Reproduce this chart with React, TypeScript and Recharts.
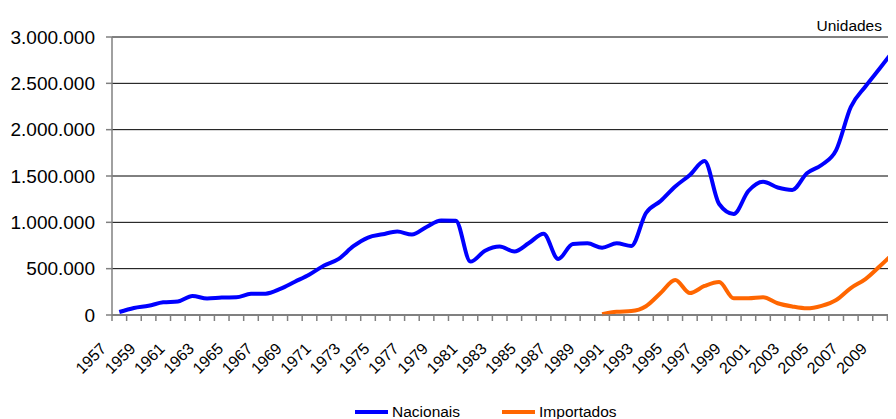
import React from 'react';
import { LineChart, Line, XAxis, YAxis, CartesianGrid, Legend } from 'recharts';

// Licenciamento de autoveículos (unidades)
const YEARS = [
  '1957', '1958', '1959', '1960', '1961', '1962', '1963', '1964', '1965', '1966',
  '1967', '1968', '1969', '1970', '1971', '1972', '1973', '1974', '1975', '1976',
  '1977', '1978', '1979', '1980', '1981', '1982', '1983', '1984', '1985', '1986',
  '1987', '1988', '1989', '1990', '1991', '1992', '1993', '1994', '1995', '1996',
  '1997', '1998', '1999', '2000', '2001', '2002', '2003', '2004', '2005', '2006',
  '2007', '2008', '2009', '2010',
];

const NACIONAIS = [
  32000, 76000, 100000, 137000, 146000, 205000, 178000, 188000, 191000, 228000,
  230000, 281000, 359000, 437000, 534000, 606000, 742000, 836000, 871000, 901000,
  868000, 950000, 1020000, 1018000, 576000, 694000, 739000, 686000, 777000, 877000,
  604000, 766000, 773000, 725000, 774000, 745000, 1101000, 1230000, 1387000, 1511000,
  1662000, 1198000, 1090000, 1338000, 1438000, 1376000, 1350000, 1529000, 1619000, 1780000,
  2245000, 2466000, 2665000, 2870000,
];

const IMPORTADOS: (number | null)[] = [
  null, null, null, null, null, null, null, null, null, null,
  null, null, null, null, null, null, null, null, null, null,
  null, null, null, null, null, null, null, null, null, null,
  null, null, null, 8000, 35000, 42000, 95000, 237000, 378000, 237000,
  313000, 356000, 180000, 180000, 191000, 127000, 92000, 72000, 99000, 162000,
  291000, 388000, 529000, 680000,
];

const Y_TICKS = [0, 500000, 1000000, 1500000, 2000000, 2500000, 3000000];

const FONT = "'Liberation Sans', Arial, sans-serif";
const CHART_W = 902;
const CHART_H = 419;
const PLOT_LEFT = 112;
const XAXIS_H = 104;
const AXIS_Y = CHART_H - XAXIS_H;
const BAND = (CHART_W - PLOT_LEFT) / YEARS.length;

const data = YEARS.map((ano, i) => ({
  ano,
  nacionais: NACIONAIS[i],
  importados: IMPORTADOS[i],
}));

/** 3000000 -> "3.000.000" */
function fmtPt(v: number): string {
  return String(v).replace(/\B(?=(\d{3})+(?!\d))/g, '.');
}

/** Tick do eixo X: marca entre categorias, rótulo a cada dois anos. */
function YearTick({ x, payload, index }: any) {
  const bx = x - BAND / 2;
  const lx = x - 12;
  const ly = AXIS_Y + 34.6;
  return (
    <g>
      <line x1={bx} x2={bx} y1={AXIS_Y} y2={AXIS_Y + 6} stroke="#808080" strokeWidth={1.5} />
      {index % 2 === 0 && (
        <text
          x={lx}
          y={ly}
          textAnchor="end"
          transform={`rotate(-45, ${lx}, ${ly})`}
          fontSize={16}
          fontFamily={FONT}
          fill="#000"
        >
          {payload.value}
        </text>
      )}
    </g>
  );
}

function LegendContent() {
  const item = (color: string, label: string, gap: number) => (
    <div style={{ display: 'flex', alignItems: 'center', marginRight: gap }}>
      <span style={{ display: 'inline-block', width: 33, height: 4, background: color, marginRight: 4 }} />
      <span>{label}</span>
    </div>
  );
  return (
    <div style={{ display: 'flex', fontFamily: FONT, fontSize: 15.5, lineHeight: '16px', color: '#000' }}>
      {item('#0000FF', 'Nacionais', 42)}
      {item('#FF6600', 'Importados', 0)}
    </div>
  );
}

export default function App(): React.ReactElement {
  // a área visível começa na margem do body (8px); o gráfico é deslocado para o canto da página
  return (
    <div style={{ position: 'relative', width: 888, height: 411, overflow: 'hidden' }}>
      <div style={{ position: 'absolute', left: -8, top: -8, width: 896, height: 419, background: '#fff' }}>
        <div
          style={{
            position: 'absolute',
            right: 14,
            top: 17.6,
            fontFamily: FONT,
            fontSize: 15.5,
            lineHeight: '16px',
            color: '#000',
          }}
        >
          Unidades
        </div>
        <LineChart
          width={CHART_W}
          height={CHART_H}
          data={data}
          margin={{ top: 37, right: 0, left: 0, bottom: 0 }}
        >
          <CartesianGrid vertical={false} stroke="#000" strokeWidth={1} />
          <XAxis
            dataKey="ano"
            interval={0}
            padding={{ left: BAND / 2, right: BAND / 2 }}
            axisLine={{ stroke: '#808080', strokeWidth: 1.5 }}
            tickLine={false}
            tick={<YearTick />}
            height={XAXIS_H}
          />
          <YAxis
            width={PLOT_LEFT}
            domain={[0, 3000000]}
            ticks={Y_TICKS}
            tickFormatter={fmtPt}
            axisLine={{ stroke: '#808080', strokeWidth: 1.5 }}
            tickLine={{ stroke: '#808080', strokeWidth: 1.5 }}
            tickSize={6}
            tickMargin={11}
            tick={{ fill: '#000', fontSize: 19, fontFamily: FONT }}
          />
          <Legend
            layout="horizontal"
            verticalAlign="middle"
            align="center"
            content={<LegendContent />}
            wrapperStyle={{ left: 355, top: 403.5, width: 320, height: 16 }}
          />
          <Line
            type="monotone"
            dataKey="nacionais"
            name="Nacionais"
            stroke="#0000FF"
            strokeWidth={4}
            dot={false}
            isAnimationActive={false}
          />
          <Line
            type="monotone"
            dataKey="importados"
            name="Importados"
            stroke="#FF6600"
            strokeWidth={4}
            dot={false}
            connectNulls={false}
            isAnimationActive={false}
          />
        </LineChart>
      </div>
    </div>
  );
}
